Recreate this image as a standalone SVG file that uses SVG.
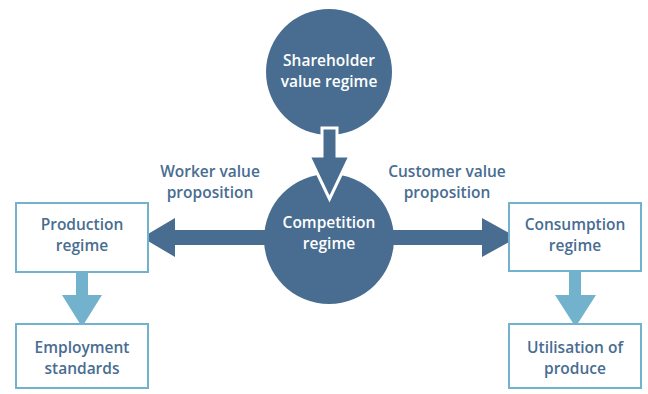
<svg xmlns="http://www.w3.org/2000/svg" width="648" height="394" viewBox="0 0 648 394">
<style>
.circ{fill:#486d91}
.box{fill:#ffffff;stroke:#72b2cc;stroke-width:2}
.t{font-family:"Open Sans","Noto Sans",sans-serif;font-size:15.5px;font-weight:600;text-anchor:middle;fill:#486d91}
.w{fill:#ffffff}
.dark{fill:#486d91}
.light{fill:#72b2cc}
</style>
<rect width="648" height="394" fill="#ffffff"/>
<g id="shareholder">
<circle class="circ" cx="329" cy="72" r="63"/>
<text class="t w" x="329" y="66">Shareholder</text>
<text class="t w" x="329" y="87">value regime</text>
</g>
<g id="competition">
<circle class="circ" cx="329" cy="239" r="65"/>
<text class="t w" x="329" y="228">Competition</text>
<text class="t w" x="329" y="249">regime</text>
</g>
<g id="connectors">
<path class="dark" d="M322 128 H337 V156 H350 L329.5 199 L309 156 H322 Z" stroke="#ffffff" stroke-width="3" stroke-linejoin="miter"/>
<path class="dark" d="M270 230 V245 H175 V257 L142 237.5 L175 218 V230 Z"/>
<path class="dark" d="M388 230 V245 H482 V257 L517 237.5 L482 218 V230 Z"/>
<path class="light" d="M76 272 H88 V295 H102 L82 327 L62 295 H76 Z"/>
<path class="light" d="M569 272 H581 V295 H596 L575.5 327 L555 295 H569 Z"/>
</g>
<g id="worker-label">
<text class="t" x="210" y="177">Worker value</text>
<text class="t" x="210" y="198">proposition</text>
</g>
<g id="customer-label">
<text class="t" x="447" y="177">Customer value</text>
<text class="t" x="447" y="198">proposition</text>
</g>
<g id="production">
<rect class="box" x="16" y="203" width="132" height="69"/>
<text class="t" x="82" y="230">Production</text>
<text class="t" x="82" y="251">regime</text>
</g>
<g id="employment">
<rect class="box" x="16" y="324" width="132" height="64"/>
<text class="t" x="82" y="353">Employment</text>
<text class="t" x="82" y="374">standards</text>
</g>
<g id="consumption">
<rect class="box" x="509" y="203" width="132" height="68"/>
<text class="t" x="575" y="230">Consumption</text>
<text class="t" x="575" y="251">regime</text>
</g>
<g id="utilisation">
<rect class="box" x="509" y="324" width="132" height="64"/>
<text class="t" x="575" y="353">Utilisation of</text>
<text class="t" x="575" y="374">produce</text>
</g>
</svg>
